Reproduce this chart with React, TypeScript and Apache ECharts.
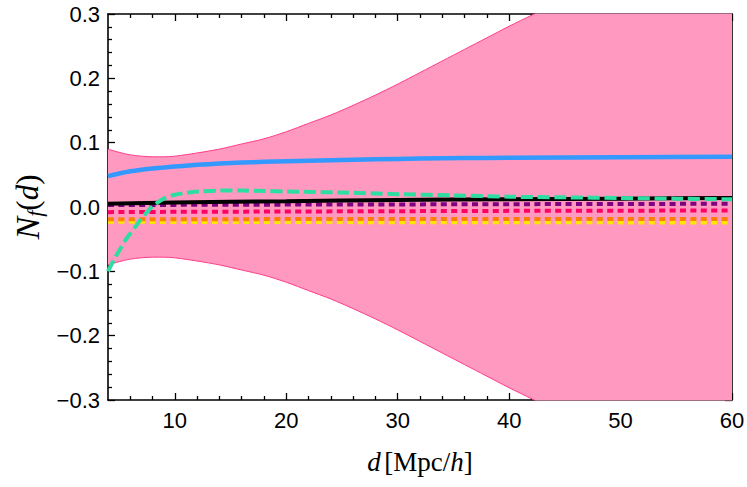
import React, { useEffect, useRef } from "react";
import * as echarts from "echarts";

// Band (±σ) sampled in d
const D_BAND = [4, 5, 6, 7, 8, 9, 10, 12, 14, 16, 18, 20, 22, 24, 26, 28, 30, 32, 34, 36, 38, 40, 42, 45, 50, 55, 60];
const SIGMA = [0.09, 0.085, 0.081, 0.079, 0.078, 0.078, 0.079, 0.084, 0.09, 0.098, 0.106, 0.117, 0.13, 0.143, 0.158, 0.174, 0.191, 0.209, 0.227, 0.245, 0.263, 0.281, 0.298, 0.325, 0.37, 0.415, 0.46];

// Blue solid
const D_BLUE = [4, 5, 6, 7, 8, 9, 10, 12, 14, 16, 18, 20, 24, 28, 32, 36, 40, 50, 60];
const BLUE = [0.048, 0.052, 0.0555, 0.058, 0.06, 0.0615, 0.063, 0.0655, 0.0675, 0.069, 0.0702, 0.0712, 0.0728, 0.0742, 0.0752, 0.076, 0.0766, 0.0775, 0.078];

// Green dashed
const D_GREEN = [4, 4.5, 5, 5.5, 6, 6.5, 7, 7.5, 8, 9, 10, 11, 12, 14, 16, 18, 20, 25, 30, 35, 40, 45, 50, 55, 60];
const GREEN = [-0.1, -0.083, -0.068, -0.053, -0.041, -0.03, -0.018, -0.008, 0.001, 0.013, 0.019, 0.022, 0.024, 0.0255, 0.0255, 0.025, 0.024, 0.0225, 0.02, 0.018, 0.016, 0.015, 0.014, 0.013, 0.012];

// Nearly flat lines
const D_FLAT = [4, 10, 20, 30, 40, 50, 60];
const BLACK = [0.005, 0.007, 0.009, 0.011, 0.012, 0.013, 0.014];
const PURPLE = [0.003, 0.0033, 0.0037, 0.004, 0.0044, 0.0047, 0.005];
const RED = [-0.008, -0.0075, -0.007, -0.0065, -0.006, -0.0057, -0.0055];
const ORANGE = [-0.019, -0.019, -0.0188, -0.0187, -0.0186, -0.0185, -0.0185];
const YELLOW = [-0.023, -0.0232, -0.0234, -0.0236, -0.0238, -0.0239, -0.024];

const X_MAJOR = [10, 20, 30, 40, 50, 60];
const X_MINOR = [6, 8, 12, 14, 16, 18, 22, 24, 26, 28, 32, 34, 36, 38, 42, 44, 46, 48, 52, 54, 56, 58];
const Y_MIN = -0.3;
const Y_MAX = 0.3;
const Y_STEP = 0.1;

const zip = (xs: number[], ys: number[]) => xs.map((x, i) => [x, ys[i]]);

export default function App() {
  const ref = useRef<HTMLDivElement>(null);
  useEffect(() => {
    if (!ref.current) return;
    const chart = echarts.init(ref.current, null, { renderer: "svg" });
    const black = "#000";
    const tickFont = { fontSize: 22, fontFamily: "Liberation Sans", color: black };
    const xBase = (pos: "bottom" | "top", major: boolean, labels: boolean) => ({
      type: "value",
      min: 4,
      max: 60,
      position: pos,
      axisLine: { show: major, onZero: false, lineStyle: { color: black, width: 1.6 } },
      axisTick: {
        show: true,
        inside: true,
        length: major ? 7 : 4,
        customValues: major ? X_MAJOR : X_MINOR,
        lineStyle: { color: black, width: 1.3 },
      },
      axisLabel: labels
        ? { show: true, customValues: X_MAJOR, margin: 9, ...tickFont }
        : { show: false },
      splitLine: { show: false },
    });
    const yBase = (pos: "left" | "right", labels: boolean) => ({
      type: "value",
      min: Y_MIN,
      max: Y_MAX,
      interval: Y_STEP,
      position: pos,
      axisLine: { show: true, onZero: false, lineStyle: { color: black, width: 1.6 } },
      axisTick: { show: true, inside: true, length: 7, lineStyle: { color: black, width: 1.3 } },
      minorTick: { show: true, splitNumber: 5, length: 4, lineStyle: { color: black, width: 1.3 } },
      axisLabel: labels
        ? {
            show: true,
            margin: 8,
            ...tickFont,
            formatter: (v: number) => {
              const r = Math.round(v * 10) / 10;
              return (r < 0 ? "\u2212" : "") + Math.abs(r).toFixed(1);
            },
          }
        : { show: false },
      splitLine: { show: false },
      minorSplitLine: { show: false },
    });

    const serif = "Liberation Serif";
    const xAxis0: any = xBase("bottom", true, true);
    xAxis0.name = "{i|d} {r|[Mpc/}{i|h}{r|]}";
    xAxis0.nameLocation = "middle";
    xAxis0.nameGap = 48;
    xAxis0.nameTextStyle = {
      rich: {
        i: { fontFamily: serif, fontStyle: "italic", fontSize: 27, color: black },
        r: { fontFamily: serif, fontSize: 27, color: black },
      },
    };
    const yAxis0: any = yBase("left", true);
    yAxis0.name = "{n|N}{s|f}{p|(}{i|d}{p|)}";
    yAxis0.nameLocation = "middle";
    yAxis0.nameRotate = 90;
    yAxis0.nameGap = 62;
    yAxis0.nameTextStyle = {
      rich: {
        n: { fontFamily: serif, fontStyle: "italic", fontSize: 34, color: black, lineHeight: 36 },
        s: { fontFamily: serif, fontStyle: "italic", fontSize: 22, color: black, verticalAlign: "bottom", lineHeight: 36 },
        p: { fontFamily: serif, fontSize: 31, color: black, lineHeight: 36 },
        i: { fontFamily: serif, fontStyle: "italic", fontSize: 31, color: black, lineHeight: 36 },
      },
    };

    const line = (name: string, xs: number[], ys: number[], color: string, width: number, type: any, smooth: any = 0.3) => ({
      name,
      type: "line",
      data: zip(xs, ys),
      symbol: "none",
      smooth,
      xAxisIndex: 0,
      yAxisIndex: 0,
      lineStyle: { color, width, type, cap: "butt" },
    });

    const bandFill = "#FF99BF";
    const bandEdge = "#FF3D8B";
    const band = (name: string, ys: number[]) => ({
      name,
      type: "line",
      data: zip(D_BAND, ys),
      symbol: "none",
      smooth: 0.3,
      lineStyle: { color: bandEdge, width: 1 },
      areaStyle: { color: bandFill, opacity: 1 },
    });

    chart.setOption({
      animation: false,
      backgroundColor: "#fff",
      grid: { left: 108, right: 15, top: 14, bottom: 87, outerBoundsMode: "none", containLabel: false },
      xAxis: [xAxis0, xBase("bottom", false, false), xBase("top", true, false), xBase("top", false, false)],
      yAxis: [yAxis0, yBase("right", false)],
      series: [
        band("upper", SIGMA),
        band("lower", SIGMA.map((s) => -s)),
        line("yellow", D_FLAT, YELLOW, "#FFE600", 4, [6, 4.4], false),
        line("orange", D_FLAT, ORANGE, "#FF8000", 4, [6, 4.4], false),
        line("red", D_FLAT, RED, "#FF0066", 4, [6, 4.4], false),
        line("purple", D_FLAT, PURPLE, "#800080", 4, [6, 4.4], false),
        line("black", D_FLAT, BLACK, "#000000", 4, "solid", 0.3),
        line("blue", D_BLUE, BLUE, "#3399FF", 4.5, "solid", 0.3),
        line("green", D_GREEN, GREEN, "#2EDDA0", 4, [12, 4.7], 0.3),
      ],
    });
    return () => chart.dispose();
  }, []);
  return <div ref={ref} style={{ position: "fixed", left: 0, top: 0, width: 747, height: 487 }} />;
}
